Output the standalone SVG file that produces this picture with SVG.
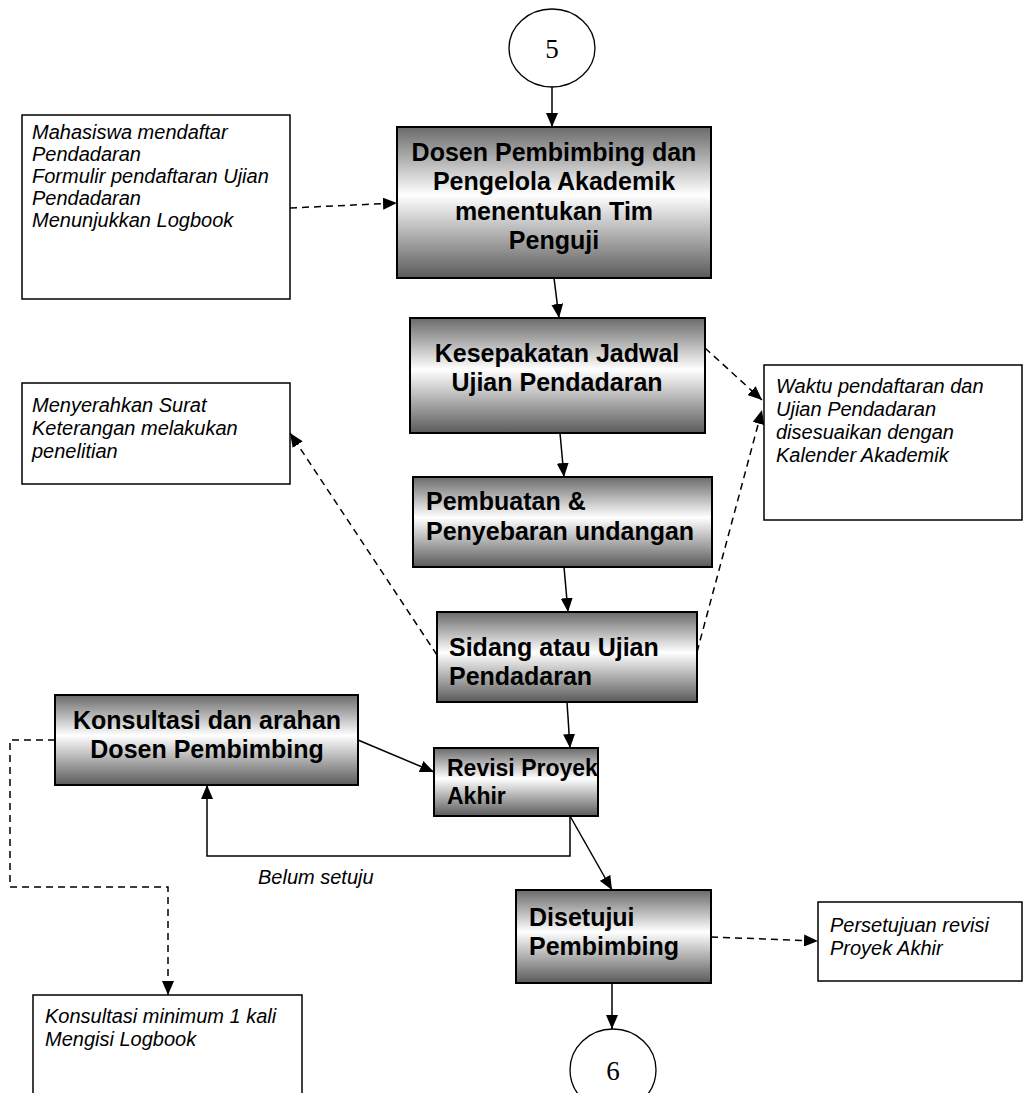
<svg xmlns="http://www.w3.org/2000/svg" width="1025" height="1093" viewBox="0 0 1025 1093">
<defs>
<linearGradient id="g" x1="0" y1="0" x2="0" y2="1">
<stop offset="0" stop-color="#6a6a6a"/>
<stop offset="0.45" stop-color="#ffffff"/>
<stop offset="1" stop-color="#5a5a5a"/>
</linearGradient>
<marker id="ah" viewBox="0 0 14 12" refX="14" refY="6" markerWidth="14" markerHeight="12" markerUnits="userSpaceOnUse" orient="auto">
<path d="M0,0 L14,6 L0,12 Z" fill="#000"/>
</marker>
</defs>
<style>
.p{fill:url(#g);stroke:#000;stroke-width:2}
.n{fill:#fff;stroke:#000;stroke-width:1.5}
.c{fill:#fff;stroke:#000;stroke-width:1.3}
.b{font-family:"Liberation Sans",Arial,sans-serif;font-weight:bold;font-size:25px;fill:#000}
.i{font-family:"Liberation Sans",Arial,sans-serif;font-style:italic;font-size:20px;fill:#000}
.num{font-family:"Liberation Serif","Times New Roman",serif;font-size:27px;fill:#000}
.s{fill:none;stroke:#000;stroke-width:1.5}
.d{fill:none;stroke:#000;stroke-width:1.5;stroke-dasharray:7 5}
</style>
<g id="connectors">
<line class="s" x1="552" y1="87" x2="552" y2="127" marker-end="url(#ah)"/>
<line class="d" x1="290" y1="208" x2="397" y2="203" marker-end="url(#ah)"/>
<line class="s" x1="554" y1="278" x2="559" y2="318" marker-end="url(#ah)"/>
<line class="d" x1="705" y1="348" x2="762" y2="400" marker-end="url(#ah)"/>
<line class="s" x1="560" y1="433" x2="564" y2="477" marker-end="url(#ah)"/>
<line class="s" x1="564" y1="567" x2="568" y2="612" marker-end="url(#ah)"/>
<line class="d" x1="437" y1="655" x2="290" y2="433" marker-end="url(#ah)"/>
<line class="d" x1="697" y1="652" x2="762" y2="410" marker-end="url(#ah)"/>
<line class="s" x1="567" y1="702" x2="570" y2="748" marker-end="url(#ah)"/>
<line class="s" x1="358" y1="740" x2="434" y2="772" marker-end="url(#ah)"/>
<polyline class="s" points="570,816 570,856 207,856 207,785" marker-end="url(#ah)"/>
<line class="s" x1="570" y1="816" x2="612" y2="890" marker-end="url(#ah)"/>
<line class="d" x1="711" y1="937" x2="818" y2="941" marker-end="url(#ah)"/>
<line class="s" x1="612" y1="983" x2="612" y2="1029" marker-end="url(#ah)"/>
<polyline class="d" points="55,740 10,740 10,887 168,887 168,995" marker-end="url(#ah)"/>
<text class="i" x="258" y="884">Belum setuju</text>
</g>
<g id="c5">
<ellipse class="c" cx="552" cy="48" rx="43" ry="39"/>
<text class="num" x="552" y="58" text-anchor="middle">5</text>
</g>
<g id="n1">
<rect class="p" x="397" y="127" width="314" height="151"/>
<text class="b" text-anchor="middle"><tspan x="554" y="161">Dosen Pembimbing dan</tspan><tspan x="554" y="190">Pengelola Akademik</tspan><tspan x="554" y="220">menentukan Tim</tspan><tspan x="554" y="249">Penguji</tspan></text>
</g>
<g id="note1">
<rect class="n" x="22" y="115" width="268" height="184"/>
<text class="i"><tspan x="32" y="139">Mahasiswa mendaftar</tspan><tspan x="32" y="161">Pendadaran</tspan><tspan x="32" y="183">Formulir pendaftaran Ujian</tspan><tspan x="32" y="205">Pendadaran</tspan><tspan x="32" y="227">Menunjukkan Logbook</tspan></text>
</g>
<g id="n2">
<rect class="p" x="410" y="318" width="295" height="115"/>
<text class="b" text-anchor="middle"><tspan x="557" y="362">Kesepakatan Jadwal</tspan><tspan x="557" y="391">Ujian Pendadaran</tspan></text>
</g>
<g id="note2">
<rect class="n" x="764" y="365" width="258" height="155"/>
<text class="i"><tspan x="776" y="393">Waktu pendaftaran dan</tspan><tspan x="776" y="416">Ujian Pendadaran</tspan><tspan x="776" y="439">disesuaikan dengan</tspan><tspan x="776" y="462">Kalender Akademik</tspan></text>
</g>
<g id="note3">
<rect class="n" x="22" y="383" width="268" height="101"/>
<text class="i"><tspan x="32" y="412">Menyerahkan Surat</tspan><tspan x="32" y="435">Keterangan melakukan</tspan><tspan x="32" y="458">penelitian</tspan></text>
</g>
<g id="n3">
<rect class="p" x="413" y="477" width="299" height="90"/>
<text class="b"><tspan x="426" y="510">Pembuatan &amp;</tspan><tspan x="426" y="540">Penyebaran undangan</tspan></text>
</g>
<g id="n4">
<rect class="p" x="437" y="612" width="260" height="90"/>
<text class="b"><tspan x="449" y="656">Sidang atau Ujian</tspan><tspan x="449" y="685">Pendadaran</tspan></text>
</g>
<g id="n5">
<rect class="p" x="55" y="695" width="303" height="90"/>
<text class="b" text-anchor="middle"><tspan x="207" y="729">Konsultasi dan arahan</tspan><tspan x="207" y="758">Dosen Pembimbing</tspan></text>
</g>
<g id="n6">
<rect class="p" x="434" y="748" width="164" height="68"/>
<text class="b" style="font-size:23px"><tspan x="447" y="776">Revisi Proyek</tspan><tspan x="447" y="804">Akhir</tspan></text>
</g>
<g id="n7">
<rect class="p" x="516" y="890" width="195" height="93"/>
<text class="b"><tspan x="529" y="926">Disetujui</tspan><tspan x="529" y="955">Pembimbing</tspan></text>
</g>
<g id="note4">
<rect class="n" x="818" y="902" width="204" height="79"/>
<text class="i"><tspan x="830" y="932">Persetujuan revisi</tspan><tspan x="830" y="955">Proyek Akhir</tspan></text>
</g>
<g id="c6">
<ellipse class="c" cx="613" cy="1070" rx="43" ry="41"/>
<text class="num" x="613" y="1080" text-anchor="middle">6</text>
</g>
<g id="note5">
<rect class="n" x="33" y="995" width="269" height="110"/>
<text class="i"><tspan x="45" y="1023">Konsultasi minimum 1 kali</tspan><tspan x="45" y="1046">Mengisi Logbook</tspan></text>
</g>
</svg>
